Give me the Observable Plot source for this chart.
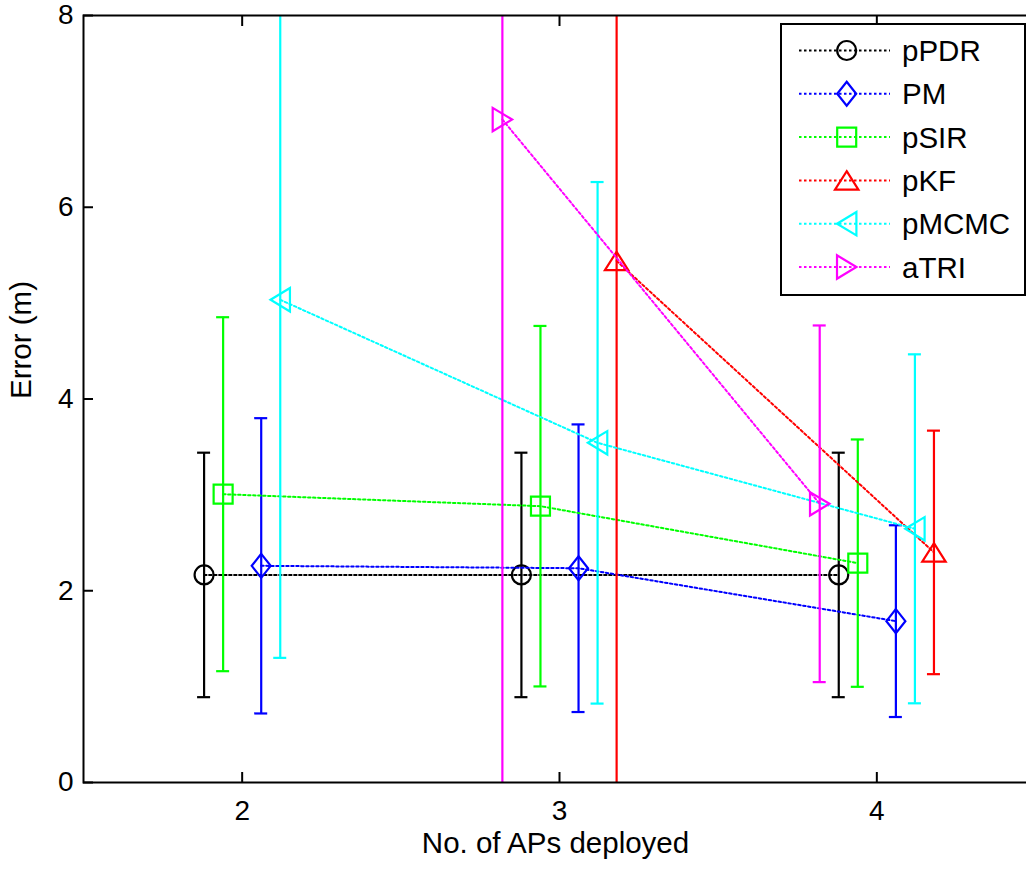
<!DOCTYPE html>
<html>
<head>
<meta charset="utf-8">
<script src="https://cdn.jsdelivr.net/npm/d3@7"></script>
<script src="https://cdn.jsdelivr.net/npm/@observablehq/plot@0.6"></script>
<style>
  html, body { margin: 0; padding: 0; background: #fff; overflow: hidden; }
  #chart { position: relative; width: 1026px; height: 869px; overflow: hidden;
           font-family: "Liberation Sans", Arial, Helvetica, sans-serif; }
  #chart svg { display: block; max-width: none !important; }
  #legend { position: absolute; left: 780px; top: 23px; }
</style>
</head>
<body>
<div id="chart"></div>
<script>
// Number of access points deployed (x categories)
const aps = [2, 3, 4];
const xTicks = [2, 3, 4];
const yTicks = [0, 2, 4, 6, 8];

const methods = ["pPDR", "PM", "pSIR", "pKF", "pMCMC", "aTRI"];
const colors  = ["#000000", "#0000ff", "#00ff00", "#ff0000", "#00ffff", "#ff00ff"];
const markers = ["circle", "diamond", "square", "triangleUp", "triangleLeft", "triangleRight"];
// horizontal shift of each method around the AP count so the bars don't overlap
const shift   = [-0.12, 0.06, -0.06, 0.18, 0.12, -0.18];

// mean error (m) and half-width of the error bar, per AP count (null = not evaluated)
const meanPPDR  = [2.165, 2.165, 2.165];
const errPPDR   = [1.275, 1.275, 1.275];
const meanPM    = [2.26, 2.235, 1.683];
const errPM     = [1.54, 1.50, 1.00];
const meanPSIR  = [3.007, 2.882, 2.288];
const errPSIR   = [1.846, 1.88, 1.29];
const meanPKF   = [null, 5.44, 2.40];
const errPKF    = [null, 6.0, 1.27];
const meanPMCMC = [5.035, 3.543, 2.646];
const errPMCMC  = [3.735, 2.72, 1.82];
const meanATRI  = [null, 6.915, 2.907];
const errATRI   = [null, 7.5, 1.86];

const means = [meanPPDR, meanPM, meanPSIR, meanPKF, meanPMCMC, meanATRI];
const errs  = [errPPDR, errPM, errPSIR, errPKF, errPMCMC, errATRI];

const dotted = "2.5,2.5";

// MATLAB-style hollow markers (drawn for r = 10)
function shape(points) {
  return {
    draw(ctx, size) {
      const k = Math.sqrt(size / Math.PI) / 10;
      points.forEach(([px, py], j) => j ? ctx.lineTo(px * k, py * k) : ctx.moveTo(px * k, py * k));
      ctx.closePath();
    }
  };
}
const symbols = {
  circle: { draw(ctx, size) { const r = Math.sqrt(size / Math.PI) * 0.95; ctx.moveTo(r, 0); ctx.arc(0, 0, r, 0, 2 * Math.PI); } },
  diamond: shape([[0, -12], [9.5, 0], [0, 12], [-9.5, 0]]),
  square: shape([[-9.5, -9.5], [9.5, -9.5], [9.5, 9.5], [-9.5, 9.5]]),
  triangleUp: shape([[0, -9.2], [11.7, 9.2], [-11.7, 9.2]]),
  triangleLeft: shape([[-9.7, 0], [9.7, -11.7], [9.7, 11.7]]),
  triangleRight: shape([[9.7, 0], [-9.7, -11.7], [-9.7, 11.7]])
};

const marks = [];
methods.forEach((name, i) => {
  const rows = aps
    .map((a, j) => ({ x: a + shift[i], y: means[i][j], lo: means[i][j] - errs[i][j], hi: means[i][j] + errs[i][j] }))
    .filter(d => d.y != null && !isNaN(d.y));
  const stroke = colors[i];
  marks.push(
    Plot.line(rows, { x: "x", y: "y", stroke, strokeWidth: 2, strokeDasharray: dotted, clip: true }),
    Plot.ruleX(rows, { x: "x", y1: "lo", y2: "hi", stroke, strokeWidth: 2.2, clip: true }),
    Plot.ruleY(rows, { y: "lo", x1: "x", x2: "x", insetLeft: -6.5, insetRight: -6.5, stroke, strokeWidth: 2.2, clip: true }),
    Plot.ruleY(rows, { y: "hi", x1: "x", x2: "x", insetLeft: -6.5, insetRight: -6.5, stroke, strokeWidth: 2.2, clip: true }),
    Plot.dot(rows, { x: "x", y: "y", symbol: symbols[markers[i]], r: 10, stroke, strokeWidth: 2.2, fill: "none" })
  );
});

const chart = Plot.plot({
  width: 1040,
  height: 869,
  marginLeft: 83,
  marginRight: 5,
  marginTop: 15,
  marginBottom: 87,
  x: { domain: [1.5, 4.5] },
  y: { domain: [0, 8] },
  style: { fontFamily: "'Liberation Sans', Arial, Helvetica, sans-serif", fontSize: "28px", color: "black", background: "white" },
  marks: [
    ...marks,
    Plot.frame({ stroke: "black", strokeWidth: 2 }),
    Plot.axisX(xTicks, { anchor: "bottom", tickSize: -10, tickPadding: 28, tickFormat: d3.format("d"), strokeWidth: 2, fontSize: 28, label: null }),
    Plot.axisX(xTicks, { anchor: "top", tickSize: -10, tickFormat: () => "", strokeWidth: 2, label: null }),
    Plot.axisY(yTicks, { anchor: "left", tickSize: -10, tickPadding: 20, tickFormat: d3.format("d"), strokeWidth: 2, fontSize: 28, label: null }),
    Plot.axisY(yTicks, { anchor: "right", tickSize: -10, tickFormat: () => "", strokeWidth: 2, label: null }),
    Plot.text(["No. of APs deployed"], { frameAnchor: "bottom", lineAnchor: "top", dy: 50, dx: -4, fontSize: 29.5, fill: "black" }),
    Plot.text(["Error (m)"], { frameAnchor: "left", lineAnchor: "top", rotate: -90, dx: -73, fontSize: 29.5, fill: "black" })
  ]
});
document.getElementById("chart").appendChild(chart);

// Legend box (top-right, inside the axes)
const lw = 246, lh = 273;
const legend = d3.select("#chart").append("svg")
  .attr("id", "legend").attr("width", lw).attr("height", lh)
  .style("font-family", "'Liberation Sans', Arial, Helvetica, sans-serif");
legend.append("rect").attr("x", 1).attr("y", 1).attr("width", lw - 2).attr("height", lh - 2)
  .attr("fill", "white").attr("stroke", "black").attr("stroke-width", 2);
methods.forEach((name, i) => {
  const cy = 27.5 + i * 43.3;
  const g = legend.append("g");
  g.append("line").attr("x1", 19).attr("x2", 110).attr("y1", cy).attr("y2", cy)
    .attr("stroke", colors[i]).attr("stroke-width", 2).attr("stroke-dasharray", dotted);
  const p = d3.path();
  symbols[markers[i]].draw(p, 100 * Math.PI);
  g.append("path").attr("d", p.toString()).attr("transform", `translate(66.7,${cy})`)
    .attr("fill", "none").attr("stroke", colors[i]).attr("stroke-width", 2.2);
  g.append("text").attr("x", 122).attr("y", cy + 10.5).attr("font-size", 29.5).attr("fill", "black").text(name);
});
</script>
</body>
</html>
